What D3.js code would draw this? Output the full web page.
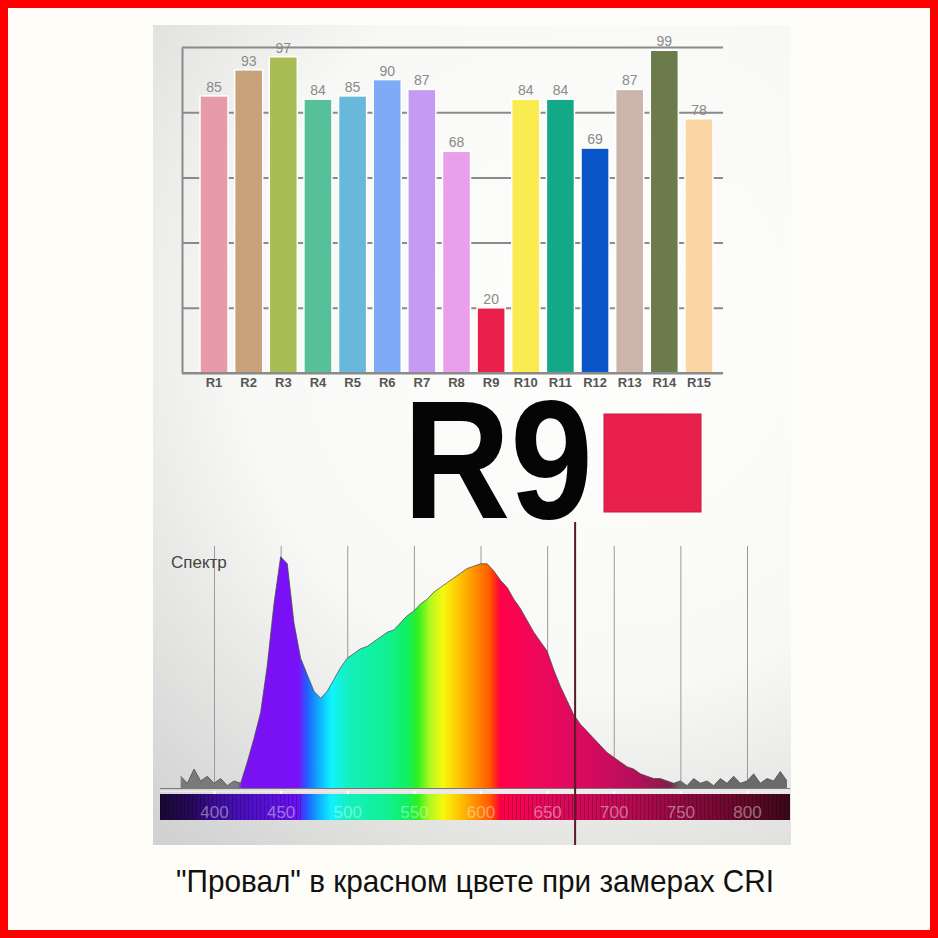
<!DOCTYPE html>
<html>
<head>
<meta charset="utf-8">
<script src="https://cdn.jsdelivr.net/npm/d3@7"></script>
<style>
  html, body { margin: 0; padding: 0; background: #fffdf7; }
  svg { display: block; }
</style>
</head>
<body>
<script>
// ---- CRI special indices R1..R15 ----
const categories = ["R1","R2","R3","R4","R5","R6","R7","R8","R9","R10","R11","R12","R13","R14","R15"];
const criValues  = [85, 93, 97, 84, 85, 90, 87, 68, 20, 84, 84, 69, 87, 99, 78];
const barColors  = ["#e79aa8","#c8a27a","#a9bd55","#56c09a","#67b8da","#7faaf5","#c59af2","#e9a0ec",
                    "#e8204a","#faec50","#12a888","#0a55c8","#ccb5ab","#6b7b4b","#f9d6a3"];
const criTicks   = [0, 20, 40, 60, 80, 100];

// ---- Emission spectrum: [wavelength nm, relative intensity] ----
const spectrum = [
  [375,5],[380,2],[385,8],[390,3],[395,5],[400,2],[405,4],[410,1],[415,3],[420,2],
  [425,11],[430,21],[435,32],[440,52],[445,78],[450,98],[455,95],[460,70],[465,55],[470,48],
  [475,41],[480,38],[485,41],[490,46],[495,51],[500,55],[505,57],[510,59],[515,60],[520,62],
  [525,64],[530,66],[535,67],[540,70],[545,73],[550,75],[555,78],[560,80],[565,83],[570,85],
  [575,87],[580,89],[585,91],[590,93],[595,94],[600,95],[605,95],[610,92],[615,88],[620,85],
  [625,80],[630,76],[635,71],[640,66],[645,62],[650,58],[655,50],[660,43],[665,37],[670,31],
  [675,27],[680,24],[685,21],[690,18],[695,15],[700,13],[705,11],[710,9],[715,8],[720,6],
  [725,5],[730,4],[735,4],[740,3],[745,2],[750,3],[755,1],[760,4],[765,2],[770,3],
  [775,1],[780,4],[785,2],[790,5],[795,2],[800,3],[805,6],[810,2],[815,4],[820,3],
  [825,7],[830,3]
];
const wavelengthTicks = [400, 450, 500, 550, 600, 650, 700, 750, 800];
const markerWavelength = 671;

const bigLabel = "R9";
const spectrumTitle = "Спектр";
const caption = "\"Провал\" в красном цвете при замерах CRI";

// Colour ramps keyed by wavelength
const fillStops = [
  [372,"#7a7a7a"],[418,"#7a7a7a"],[421,"#7a12f2"],[463,"#7a10f8"],[470,"#2060ff"],[478,"#10a8ff"],
  [488,"#10f4ff"],[500,"#14f0c0"],[530,"#10f090"],[545,"#10f060"],[553,"#30f020"],[562,"#b0f820"],
  [572,"#f8f810"],[585,"#ffc000"],[597,"#ff8a00"],[607,"#ff5a00"],[612,"#ff2020"],[615,"#ff0048"],
  [640,"#f0085a"],[680,"#d80a60"],[720,"#b01058"],[742,"#802048"],[750,"#6a6a6a"],[832,"#6a6a6a"]
];
const stripStops = [
  [358,"#180830"],[385,"#28085e"],[400,"#3a0c95"],[430,"#5010c8"],[463,"#6a10f0"],[470,"#2060ff"],
  [478,"#10a8ff"],[488,"#10f0ff"],[500,"#14f0c0"],[530,"#10f090"],[545,"#10f060"],[553,"#30f020"],
  [562,"#b0f820"],[572,"#f8f810"],[585,"#ffc000"],[597,"#ff8a00"],[607,"#ff5a00"],[612,"#ff2020"],
  [615,"#ff0048"],[650,"#e0085a"],[700,"#c00a55"],[750,"#900a40"],[800,"#600828"],[832,"#380818"]
];
// stripe texture only shows on the dark ends of the strip
const stripeRanges = [[358, 466], [615, 832]];

const W = 938, H = 938;
const svg = d3.select("body").append("svg").attr("width", W).attr("height", H);
const defs = svg.append("defs");

svg.append("rect").attr("width", W).attr("height", H).attr("fill", "#fffdf7");

// soft vignette panel behind the charts
const vg = defs.append("radialGradient").attr("id", "panelGrad")
  .attr("gradientUnits", "userSpaceOnUse").attr("cx", 600).attr("cy", 330).attr("r", 660);
vg.append("stop").attr("offset", 0).attr("stop-color", "#fefefc");
vg.append("stop").attr("offset", 0.55).attr("stop-color", "#f8f8f6");
vg.append("stop").attr("offset", 1).attr("stop-color", "#d2d2d2");
svg.append("rect").attr("x", 153).attr("y", 25).attr("width", 638).attr("height", 820)
  .attr("fill", "url(#panelGrad)");

// ================= Bar chart =================
const plot = { left: 182, right: 723, top: 47, bottom: 373 };
const x = d3.scaleBand().domain(categories).range([200, 713]).paddingInner(0.19).paddingOuter(0);
const y = d3.scaleLinear().domain([0, 100]).range([plot.bottom, plot.top]);

const grid = svg.append("g").attr("transform", `translate(${plot.left},0)`)
  .call(d3.axisLeft(y).tickValues(criTicks).tickSize(-(plot.right - plot.left)).tickSizeOuter(0).tickFormat(""));
grid.selectAll("line").attr("stroke", "#8a8a8a").attr("stroke-width", 2);
grid.select(".domain").attr("stroke", "#8a8a8a").attr("stroke-width", 2);

svg.append("g").selectAll("rect").data(categories).join("rect")
  .attr("x", d => x(d)).attr("width", x.bandwidth())
  .attr("y", (d, i) => y(criValues[i])).attr("height", (d, i) => y(0) - y(criValues[i]))
  .attr("fill", (d, i) => barColors[i])
  .attr("stroke", "#ffffff").attr("stroke-width", 1.5);

svg.append("line").attr("x1", plot.left).attr("x2", plot.right)
  .attr("y1", y(0)).attr("y2", y(0)).attr("stroke", "#8a8a8a").attr("stroke-width", 2);

svg.append("g").selectAll("text").data(categories).join("text")
  .attr("x", d => x(d) + x.bandwidth() / 2)
  .attr("y", (d, i) => y(criValues[i]) - 4)
  .attr("text-anchor", "middle")
  .attr("font-family", "Liberation Sans, Arial, sans-serif").attr("font-size", 14)
  .attr("fill", "#8a8a8a")
  .text((d, i) => criValues[i]);

const xAxis = svg.append("g").attr("transform", `translate(0,${plot.bottom})`)
  .call(d3.axisBottom(x).tickSize(0).tickPadding(5));
xAxis.select(".domain").remove();
xAxis.selectAll("text").attr("font-family", "Liberation Sans, Arial, sans-serif")
  .attr("font-size", 13).attr("font-weight", "bold").attr("fill", "#555");

// ================= Big R9 label =================
svg.append("text").attr("x", 403).attr("y", 518)
  .attr("font-family", "Liberation Sans, Arial, sans-serif").attr("font-weight", "bold")
  .attr("font-size", 168).attr("fill", "#050505")
  .attr("textLength", 190).attr("lengthAdjust", "spacingAndGlyphs")
  .text(bigLabel);
svg.append("rect").attr("x", 604).attr("y", 414).attr("width", 97).attr("height", 98)
  .attr("fill", barColors[categories.indexOf(bigLabel)])
  .attr("stroke", "#c81a40").attr("stroke-width", 1);

// ================= Spectrum =================
const xs = d3.scaleLinear().domain([400, 800]).range([214, 747]);
const ys = d3.scaleLinear().domain([0, 100]).range([788, 552]);

const sGrid = svg.append("g").attr("transform", "translate(0,788)")
  .call(d3.axisBottom(xs).tickValues(wavelengthTicks).tickSize(-(788 - 546)).tickFormat(""));
sGrid.select(".domain").remove();
sGrid.selectAll("line").attr("stroke", "#9a9a9a").attr("stroke-width", 1);

function addGradient(id, stops) {
  const g = defs.append("linearGradient").attr("id", id)
    .attr("gradientUnits", "userSpaceOnUse")
    .attr("x1", xs(stops[0][0])).attr("x2", xs(stops[stops.length - 1][0]))
    .attr("y1", 0).attr("y2", 0);
  const span = stops[stops.length - 1][0] - stops[0][0];
  stops.forEach(([w, c]) => g.append("stop")
    .attr("offset", (w - stops[0][0]) / span).attr("stop-color", c));
}
addGradient("specFill", fillStops);
addGradient("stripFill", stripStops);

const area = d3.area().x(d => xs(d[0])).y0(ys(0)).y1(d => ys(d[1])).curve(d3.curveLinear);
const line = d3.line().x(d => xs(d[0])).y(d => ys(d[1])).curve(d3.curveLinear);
svg.append("path").datum(spectrum).attr("d", area).attr("fill", "url(#specFill)");
svg.append("path").datum(spectrum).attr("d", line).attr("fill", "none")
  .attr("stroke", "#4a4a4a").attr("stroke-width", 1).attr("stroke-opacity", 0.75);

svg.append("line").attr("x1", 160).attr("x2", 790).attr("y1", 788.5).attr("y2", 788.5)
  .attr("stroke", "#777").attr("stroke-width", 1);
svg.append("line").attr("x1", 160).attr("x2", 790).attr("y1", 791.5).attr("y2", 791.5)
  .attr("stroke", "#f4e8f0").attr("stroke-width", 1.5);

// wavelength colour strip with fine stripes on its dark ends
const stripPat = defs.append("pattern").attr("id", "stripes").attr("patternUnits", "userSpaceOnUse")
  .attr("width", 4).attr("height", 30);
stripPat.append("rect").attr("x", 0).attr("width", 1).attr("height", 30).attr("fill", "#000").attr("opacity", 0.2);
svg.append("rect").attr("x", 160).attr("y", 794).attr("width", 630).attr("height", 26).attr("fill", "url(#stripFill)");
svg.append("g").selectAll("rect").data(stripeRanges).join("rect")
  .attr("x", d => Math.max(160, xs(d[0]))).attr("y", 794)
  .attr("width", d => Math.min(790, xs(d[1])) - Math.max(160, xs(d[0]))).attr("height", 26)
  .attr("fill", "url(#stripes)");

const wAxis = svg.append("g").attr("transform", "translate(0,791)")
  .call(d3.axisBottom(xs).tickValues(wavelengthTicks).tickSize(3).tickPadding(12));
wAxis.select(".domain").remove();
wAxis.selectAll("line").attr("stroke", "#ffffff").attr("stroke-width", 2);
wAxis.selectAll("text").attr("font-family", "Liberation Sans, Arial, sans-serif")
  .attr("font-size", 17).attr("fill", "#ffffff").attr("fill-opacity", 0.42);

svg.append("line").attr("x1", xs(markerWavelength)).attr("x2", xs(markerWavelength))
  .attr("y1", 522).attr("y2", 845).attr("stroke", "#5a1a28").attr("stroke-width", 2);

svg.append("text").attr("x", 171).attr("y", 568)
  .attr("font-family", "Liberation Sans, Arial, sans-serif").attr("font-size", 17)
  .attr("fill", "#444").text(spectrumTitle);

// ================= Caption =================
svg.append("text").attr("x", 176).attr("y", 892)
  .attr("font-family", "Liberation Sans Narrow, Arial Narrow, Liberation Sans, Arial, sans-serif")
  .attr("font-size", 32).attr("fill", "#111")
  .attr("textLength", 598).attr("lengthAdjust", "spacingAndGlyphs")
  .text(caption);

// red frame
svg.append("rect").attr("x", 4).attr("y", 4).attr("width", W - 8).attr("height", H - 8)
  .attr("fill", "none").attr("stroke", "#ff0000").attr("stroke-width", 8);
</script>
</body>
</html>
